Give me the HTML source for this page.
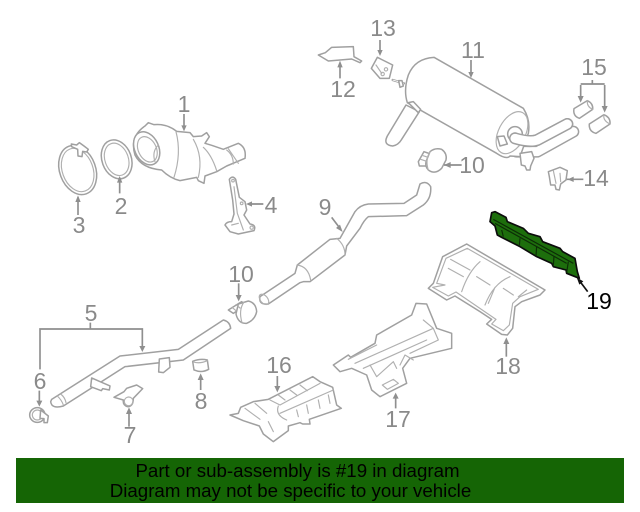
<!DOCTYPE html>
<html><head><meta charset="utf-8"><style>
html,body{margin:0;padding:0;background:#fff}
svg{display:block}
.p{fill:#fff;stroke:#a0a0a0;stroke-width:4.500;stroke-linejoin:round;stroke-linecap:round}
.n{fill:none;stroke:#b0b0b0;stroke-width:3.500;stroke-linejoin:round;stroke-linecap:round}
.a{fill:none;stroke:#8f8f8f;stroke-width:5}
.h{fill:#8f8f8f;stroke:none}
text{font-family:"Liberation Sans",sans-serif}
.l{font-size:23px;fill:#8a8a8a;text-anchor:middle}
</style></head><body>
<svg width="640" height="512" viewBox="0 0 640 512" xmlns="http://www.w3.org/2000/svg">
<rect width="640" height="512" fill="#fff"/>

<g transform="translate(30,90) scale(.33333)">
<!-- part 3 -->
<ellipse class="p" cx="143" cy="240" rx="54" ry="76" transform="rotate(-20 143 240)"/>
<ellipse class="n" cx="143" cy="240" rx="46" ry="67" transform="rotate(-20 143 240)"/>
<path class="p" d="M125 170L124 162 140 165 148 158 162 168 175 178 170 186 158 184 156 200 144 198 143 178Z"/>
<!-- part 2 -->
<ellipse class="p" cx="260" cy="208" rx="44" ry="60" transform="rotate(-20 260 208)"/>
<ellipse class="n" cx="260" cy="208" rx="35" ry="50" transform="rotate(-20 260 208)"/>
<!-- part 1 -->
<path class="p" d="M345 108L355 98 372 104Q410 100 440 124L480 128 490 140 515 138 530 128 538 140 525 160 545 166 580 178 625 160Q650 172 645 205L590 228 560 245 525 258 522 280 505 272 500 262 450 272Q420 265 395 240Q335 235 315 195Q298 140 345 108Z"/>
<path class="n" d="M520 172Q545 195 560 242M490 148Q520 200 505 262M438 125Q455 190 432 262M590 180Q610 195 610 222M595 176L625 220"/>
<ellipse class="p" cx="350" cy="175" rx="36" ry="52" transform="rotate(-25 350 175)"/>
<ellipse class="n" cx="352" cy="178" rx="27" ry="40" transform="rotate(-25 352 178)"/>
<path class="n" d="M385 165Q365 185 375 215"/>
<!-- part 4 -->
<path class="p" d="M598 268Q608 255 617 268L628 322 645 335 650 360 642 375 660 402Q680 405 672 422L625 432 600 425 585 405Q590 395 605 395L612 372 608 330Z"/>
<path class="n" d="M612 290L622 370 640 420M605 405L625 400"/>
<circle class="n" cx="635" cy="340" r="4"/><circle class="n" cx="665" cy="413" r="5"/><circle class="n" cx="609" cy="272" r="4"/>
<!-- arrows -->
<path class="a" d="M462 72V110M269 310V262M144 375V322M700 342H655"/>
<path class="h" d="M462 124L454 106H470ZM269 258L261 278H277ZM144 316L136 336H152ZM648 342L666 334V350Z"/>
</g>

<g transform="translate(300,10) scale(.33333)">
<!-- 12 -->
<path class="p" d="M55 135L76 128 95 112 160 110 162 140 185 153 180 158 155 147 85 153Z"/>
<!-- 13 -->
<path class="p" d="M232 142L278 165 268 205 240 205 214 175Z"/>
<path class="n" d="M228 165L245 190"/><circle class="n" cx="258" cy="178" r="5"/><circle class="n" cx="248" cy="192" r="5"/>
<!-- tube left -->
<path class="p" d="M318 285L262 378Q248 405 278 408 295 405 305 388L358 305Z"/>
<!-- bolt -->
<path d="M278 210L312 220" stroke="#a0a0a0" stroke-width="7" stroke-linecap="round"/>
<path d="M278 210L312 220" stroke="#fff" stroke-width="2.500"/>
<path class="p" d="M296 212L306 212 310 228 300 232Z"/>
<!-- pipes -->
<path d="M650 425L712 425 820 365" fill="none" stroke="#a0a0a0" stroke-width="36" stroke-linecap="round" stroke-linejoin="round"/>
<path d="M650 425L712 425 820 365" fill="none" stroke="#fff" stroke-width="27" stroke-linecap="round" stroke-linejoin="round"/>
<path d="M650 388Q690 398 712 390L802 342" fill="none" stroke="#a0a0a0" stroke-width="36" stroke-linecap="round" stroke-linejoin="round"/>
<path d="M650 388Q690 398 712 390L802 342" fill="none" stroke="#fff" stroke-width="27" stroke-linecap="round" stroke-linejoin="round"/>
<!-- muffler -->
<path class="p" d="M402 142Q345 145 325 195 310 240 322 278L590 430Q620 450 630 438L660 440 685 370Q692 330 670 295Z"/>
<ellipse class="n" cx="636" cy="368" rx="40" ry="68" transform="rotate(28 636 368)"/>
<path class="p" d="M325 278L340 275 362 298 355 308Z"/>
<circle class="p" cx="645" cy="372" r="22"/>
<circle class="n" cx="645" cy="380" r="12"/>
<path d="M645 385Q690 398 712 390L802 342" fill="none" stroke="#a0a0a0" stroke-width="36" stroke-linecap="round" stroke-linejoin="round"/>
<path d="M645 385Q690 398 712 390L802 342" fill="none" stroke="#fff" stroke-width="27" stroke-linecap="round" stroke-linejoin="round"/>
<path class="p" d="M592 380L612 378 622 402 600 408ZM660 430L695 425 702 445 692 468 690 480 680 480 675 468 664 465Z"/>
<!-- 15 -->
<path class="p" d="M822 296L862 272Q880 280 878 298L838 325Q818 318 822 296Z"/>
<path class="p" d="M868 342L912 314Q932 322 930 342L888 370Q866 365 868 342Z"/>
<path class="n" d="M862 272Q860 290 878 298M912 314Q908 332 930 342"/>
<!-- 10 -->
<path class="p" d="M355 455L372 425 392 432 378 468 358 468Z"/>
<path class="p" d="M390 425Q405 412 425 418 442 430 438 450L425 475Q405 495 385 480 375 470 378 455Z"/>
<path class="n" d="M390 425Q375 450 385 480M366 436L384 442M362 448L380 454"/>
<!-- 14 -->
<path class="p" d="M745 485L780 472 802 482 798 510 782 522 778 540 768 538 765 525 752 525 748 500Z"/>
<path class="n" d="M760 482L768 520M780 490L782 515"/>
<!-- arrows -->
<path class="a" d="M240 90V130M120 205V160M513 150V190M842 225V265M914 225V298M842 222H914M877 222V210M800 508H850M432 465H485"/>
<path class="h" d="M240 138L232 120H248ZM120 152L112 172H128ZM513 204L505 186H521ZM842 278L833 258H851ZM914 308L905 288H923ZM803 508L821 500V516ZM432 465L452 456V474Z"/>
</g>

<g transform="translate(220,170) scale(.33333)">
<!-- part 9 -->
<path class="p" d="M120 380L225 310 232 285 330 208 360 205 405 125Q420 105 445 102L552 100 590 75 600 42Q620 30 632 50 635 85 610 105L560 137 445 140Q432 150 420 175L380 228 375 255 270 335 250 335 240 338 145 402Q115 405 120 380Z"/>
<ellipse class="n" cx="132" cy="388" rx="11" ry="18" transform="rotate(-40 132 388)"/>
<path class="n" d="M232 285Q265 290 272 330M350 205Q375 225 375 255"/>
<path class="a" d="M335 142L360 175"/>
<path class="h" d="M368 186L348 174 360 164Z"/>
</g>

<g transform="translate(220,170) scale(.33333)">
<!-- lower 10 -->
<path class="p" d="M25 420L65 395 76 406 40 430Z"/>
<path class="p" d="M55 402L85 393Q108 398 110 425 105 450 80 460 55 462 48 432Z"/>
<path class="n" d="M72 396Q55 420 66 458M36 412L48 422M48 404L60 414"/>
<path class="a" d="M56 340V380"/>
<path class="h" d="M56 394L47 375H65Z"/>
</g>

<g transform="translate(20,290) scale(.33333)">
<!-- part 5 -->
<path class="p" d="M95 328L300 198 475 178 610 90Q630 95 632 115L490 210 315 230 130 348Q95 358 92 335Z"/>
<path class="n" d="M112 318Q125 330 130 345M122 312Q135 322 138 338"/>
<path class="p" d="M215 264L270 288 268 300 248 296 244 302 212 290Z"/>
<path class="p" d="M418 207L448 203 450 232 430 248 416 246Z"/>
<!-- part 6 -->
<ellipse class="p" cx="52" cy="375" rx="23" ry="22"/>
<ellipse class="n" cx="52" cy="375" rx="15" ry="15"/>
<path class="p" d="M62 360L85 378 82 398 72 398 72 386 60 385Z"/>
<!-- part 7 -->
<path class="p" d="M282 322L312 305 320 295 350 285 368 296 340 325Q340 350 322 350 308 345 310 330Z"/>
<circle class="n" cx="326" cy="334" r="13"/>
<!-- part 8 -->
<path class="p" d="M518 214Q540 205 562 210L566 238Q545 250 522 240Z"/>
<path class="n" d="M520 216Q540 222 562 212"/>
<!-- arrows -->
<path class="a" d="M60 238V117H367V172M211 117V98M58 302V338M327 410V362M542 300V262"/>
<path class="h" d="M367 186L358 168H376ZM58 350L49 332H67ZM327 352L318 372H336ZM542 250L533 270H551Z"/>
</g>

<g transform="translate(220,300) scale(.33333)">
<!-- part 16 -->
<path class="p" d="M30 345L55 340 62 322 100 305 145 298 278 230 300 245 338 262 350 315 364 325 268 358 270 372 248 372 240 368 205 378 205 392 160 425 130 402 118 378 70 362Z"/>
<path class="n" d="M150 300L180 315 300 250M175 318Q165 345 200 360M180 340L340 270M75 325L120 358M105 310L140 340M145 365L160 395M210 270L230 285M240 255L262 272M175 285L195 300M230 330L235 350M260 315L265 340M295 300L300 325M325 285L330 310"/>
<!-- part 17 -->
<path class="p" d="M340 195L385 165 392 172 465 130 470 105 575 45 588 10 620 12 650 85 695 100 695 145 570 175 548 205 560 250 480 290 455 270 440 225 395 205 360 215Z"/>
<path class="n" d="M385 178L470 135M405 190L640 85 655 120 570 160M430 205L620 120M470 230L520 185 530 205M540 195L555 165 580 180M610 60L640 85M450 195L470 230"/>
<path class="n" d="M487 255L520 238 535 250 502 268Z"/>
<!-- arrows -->
<path class="a" d="M172 228V262M527 325V288"/>
<path class="h" d="M172 277L163 258H181ZM527 278L518 296H536Z"/>
</g>

<g transform="translate(420,200) scale(.33333)">
<!-- part 18 -->
<path class="p" d="M140 132L375 270 360 285 305 305 285 320 278 385 262 405 245 403 200 372 215 358 180 335 105 288 80 300 25 265 40 250 68 170Z"/>
<path class="n" d="M142 145L355 268 300 290 278 310 268 375 250 392 215 372 228 358 108 276 85 288 38 262 75 255 50 250 78 175ZM92 178L150 210M85 205L130 230M180 185Q145 215 125 275M270 230Q220 250 195 315M170 230L210 255M250 265L280 285M225 262L205 310M320 270L295 290"/>
<!-- part 19 -->
<path d="M215 38L225 35 258 52 262 65 310 85 325 100 360 110 368 125 420 145 428 155 465 175 472 215 478 235 440 220 438 210 400 200 395 190 350 170 300 140 245 112 232 105 225 78 210 65Z" fill="#1d6e0c" stroke="#0c0c0c" stroke-width="5" stroke-linejoin="round"/>
<path d="M220 58L460 190M245 90L250 110M300 115L298 138M350 138L348 168M402 168L400 198M445 185L440 218M225 70L440 190" fill="none" stroke="#0c2c06" stroke-width="3.500"/>
<!-- arrows -->
<path class="a" d="M259 470V425"/>
<path class="h" d="M259 412L250 432H268Z"/>
<path d="M503 275L478 242" stroke="#111" stroke-width="5" fill="none"/>
<path d="M470 232L490 244 478 254Z" fill="#111"/>
</g>

<text class="l" x="184" y="112">1</text>
<text class="l" x="121" y="214">2</text>
<text class="l" x="79" y="233">3</text>
<text class="l" x="271" y="213">4</text>
<text class="l" x="91" y="321">5</text>
<text class="l" x="40" y="389">6</text>
<text class="l" x="130" y="443">7</text>
<text class="l" x="201" y="409">8</text>
<text class="l" x="325" y="215">9</text>
<text class="l" x="472" y="173">10</text>
<text class="l" x="241" y="282">10</text>
<text class="l" x="473" y="58">11</text>
<text class="l" x="343" y="97">12</text>
<text class="l" x="383" y="36">13</text>
<text class="l" x="596" y="186">14</text>
<text class="l" x="594" y="75">15</text>
<text class="l" x="279" y="373">16</text>
<text class="l" x="398" y="427">17</text>
<text class="l" x="508" y="374">18</text>
<text x="599" y="309" font-size="23" fill="#000" text-anchor="middle">19</text>

<rect x="16" y="458" width="608" height="45" fill="#156505"/>
<text x="297.500" y="477" font-size="18.700" fill="#000" text-anchor="middle">Part or sub-assembly is #19 in diagram</text>
<text x="290.500" y="497" font-size="18.700" fill="#000" text-anchor="middle">Diagram may not be specific to your vehicle</text>
</svg>
</body></html>
